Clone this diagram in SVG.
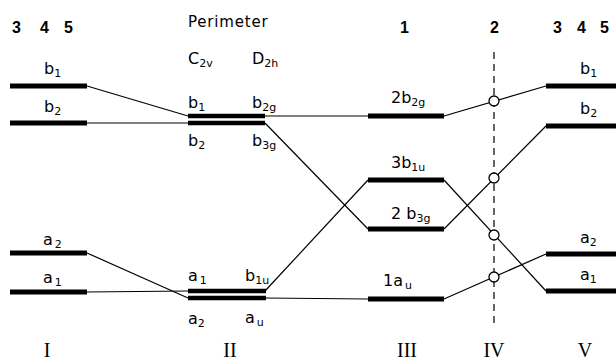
<svg xmlns="http://www.w3.org/2000/svg" width="616" height="364" viewBox="0 0 616 364">
<style>
.bar{stroke:#000;stroke-width:5;fill:none}
.pbar{stroke:#000;stroke-width:4.5;fill:none}
.ln{stroke:#000;stroke-width:1.2;fill:none}
.t{font-family:"DejaVu Sans","Liberation Sans",sans-serif;font-size:16px;fill:#000}
.s{font-size:11px}
.h{font-family:"Liberation Sans",Arial,sans-serif;font-size:16px;font-weight:bold;fill:#000}
.r{font-family:"Liberation Serif","Times New Roman",serif;font-size:20px;fill:#000;text-anchor:middle}
.c{fill:#fff;stroke:#000;stroke-width:1.3}
</style>
<g id="headers">
<text class="h" x="12" y="33">3</text><text class="h" x="40" y="33">4</text><text class="h" x="64" y="33">5</text>
<text class="t" x="188" y="27" style="font-size:15px;letter-spacing:0.8px">Perimeter</text>
<text class="t" x="188" y="64">C<tspan class="s" dy="3">2v</tspan></text>
<text class="t" x="252" y="64">D<tspan class="s" dy="3">2h</tspan></text>
<text class="h" x="400" y="33">1</text>
<text class="h" x="490" y="33">2</text>
<text class="h" x="553" y="33">3</text><text class="h" x="577" y="33">4</text><text class="h" x="600" y="33">5</text>
<text class="r" x="47" y="357">I</text>
<text class="r" x="230" y="357">II</text>
<text class="r" x="407" y="357">III</text>
<text class="r" x="494" y="357">IV</text>
<text class="r" x="585" y="357">V</text>
</g>
<g id="connectors">
<line class="ln" x1="87" y1="86" x2="188" y2="116"/>
<line class="ln" x1="87" y1="123" x2="188" y2="123"/>
<line class="ln" x1="265" y1="116" x2="368" y2="116"/>
<line class="ln" x1="265" y1="123" x2="368" y2="229"/>
<line class="ln" x1="87" y1="253" x2="188" y2="298"/>
<line class="ln" x1="87" y1="292" x2="188" y2="291"/>
<line class="ln" x1="265" y1="291" x2="368" y2="180"/>
<line class="ln" x1="265" y1="298" x2="368" y2="299"/>
<line class="ln" x1="444" y1="116" x2="546" y2="86"/>
<line class="ln" x1="444" y1="180" x2="546" y2="291"/>
<line class="ln" x1="444" y1="229" x2="546" y2="126"/>
<line class="ln" x1="444" y1="299" x2="546" y2="254"/>
<line x1="494" y1="52" x2="494" y2="326" stroke="#000" stroke-width="1.2" stroke-dasharray="7,5"/>
<circle class="c" cx="494" cy="101" r="5"/>
<circle class="c" cx="494" cy="178" r="5"/>
<circle class="c" cx="494" cy="235" r="5"/>
<circle class="c" cx="494" cy="277" r="5"/>
</g>
<g id="level-I">
<line class="bar" x1="10" y1="86" x2="87" y2="86"/><text class="t" x="44" y="74">b<tspan class="s" dy="3">1</tspan></text>
<line class="bar" x1="10" y1="123" x2="87" y2="123"/><text class="t" x="44" y="112">b<tspan class="s" dy="3">2</tspan></text>
<line class="bar" x1="10" y1="253" x2="87" y2="253"/><text class="t" x="43" y="245">a<tspan class="s" dy="3" dx="2">2</tspan></text>
<line class="bar" x1="10" y1="292" x2="87" y2="292"/><text class="t" x="43" y="283">a<tspan class="s" dy="3" dx="2">1</tspan></text>
</g>
<g id="level-II">
<line class="pbar" x1="188" y1="116" x2="265" y2="116"/>
<line class="pbar" x1="188" y1="123" x2="265" y2="123"/>
<text class="t" x="188" y="108">b<tspan class="s" dy="3">1</tspan></text>
<text class="t" x="252" y="108">b<tspan class="s" dy="3">2g</tspan></text>
<text class="t" x="188" y="146">b<tspan class="s" dy="3">2</tspan></text>
<text class="t" x="252" y="146">b<tspan class="s" dy="3">3g</tspan></text>
<line class="pbar" x1="188" y1="291" x2="266" y2="291"/>
<line class="pbar" x1="188" y1="298" x2="266" y2="298"/>
<text class="t" x="188" y="281">a<tspan class="s" dy="3" dx="2">1</tspan></text>
<text class="t" x="245" y="281">b<tspan class="s" dy="3">1u</tspan></text>
<text class="t" x="188" y="324">a<tspan class="s" dy="3">2</tspan></text>
<text class="t" x="245" y="323">a<tspan class="s" dy="3" dx="2">u</tspan></text>
</g>
<g id="level-III">
<line class="bar" x1="368" y1="116" x2="444" y2="116"/><text class="t" x="391" y="103">2b<tspan class="s" dy="3">2g</tspan></text>
<line class="bar" x1="368" y1="180" x2="444" y2="180"/><text class="t" x="391" y="168">3b<tspan class="s" dy="3">1u</tspan></text>
<line class="bar" x1="368" y1="229" x2="444" y2="229"/><text class="t" x="391" y="219">2 b<tspan class="s" dy="3">3g</tspan></text>
<line class="bar" x1="368" y1="299" x2="444" y2="299"/><text class="t" x="383" y="286">1a<tspan class="s" dy="3" dx="2">u</tspan></text>
</g>
<g id="level-V">
<line class="bar" x1="546" y1="86" x2="616" y2="86"/><text class="t" x="580" y="74">b<tspan class="s" dy="3">1</tspan></text>
<line class="bar" x1="546" y1="126" x2="616" y2="126"/><text class="t" x="580" y="114">b<tspan class="s" dy="3">2</tspan></text>
<line class="bar" x1="546" y1="254" x2="616" y2="254"/><text class="t" x="580" y="243">a<tspan class="s" dy="3">2</tspan></text>
<line class="bar" x1="546" y1="291" x2="616" y2="291"/><text class="t" x="580" y="280">a<tspan class="s" dy="3">1</tspan></text>
</g>
</svg>
